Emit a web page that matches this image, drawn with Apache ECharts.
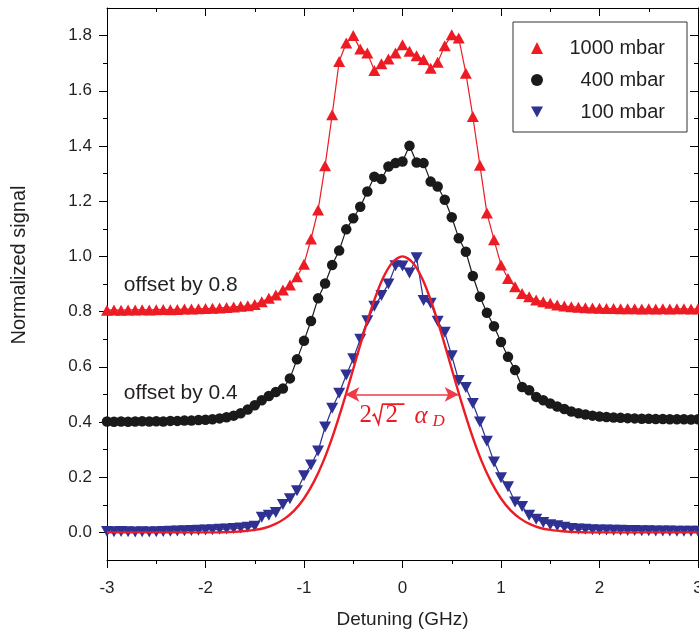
<!DOCTYPE html>
<html><head><meta charset="utf-8">
<script src="https://cdn.jsdelivr.net/npm/echarts@6/dist/echarts.min.js"></script>
<style>html,body{margin:0;padding:0;background:#fff}#c{width:699px;height:637px}</style>
</head><body><div id="c"></div>
<script>
// ---- data ----
const detuning = [-3.000,-2.929,-2.857,-2.786,-2.714,-2.643,-2.571,-2.500,-2.429,-2.357,-2.286,-2.214,-2.143,-2.071,-2.000,-1.929,-1.857,-1.786,-1.714,-1.643,-1.571,-1.500,-1.429,-1.357,-1.286,-1.214,-1.143,-1.071,-1.000,-0.929,-0.857,-0.786,-0.714,-0.643,-0.571,-0.500,-0.429,-0.357,-0.286,-0.214,-0.143,-0.071,0.000,0.071,0.143,0.214,0.286,0.357,0.429,0.500,0.571,0.643,0.714,0.786,0.857,0.929,1.000,1.071,1.143,1.214,1.286,1.357,1.429,1.500,1.571,1.643,1.714,1.786,1.857,1.929,2.000,2.071,2.143,2.214,2.286,2.357,2.429,2.500,2.571,2.643,2.714,2.786,2.857,2.929,3.000];
const signal1000 = [0.805,0.806,0.805,0.806,0.806,0.807,0.806,0.807,0.808,0.807,0.808,0.809,0.809,0.810,0.811,0.812,0.813,0.815,0.817,0.819,0.821,0.826,0.836,0.848,0.860,0.878,0.896,0.926,0.972,1.063,1.168,1.328,1.513,1.706,1.773,1.800,1.751,1.737,1.674,1.698,1.715,1.737,1.767,1.743,1.727,1.713,1.682,1.703,1.763,1.803,1.791,1.664,1.507,1.330,1.157,1.060,0.969,0.920,0.890,0.866,0.854,0.842,0.836,0.830,0.824,0.820,0.818,0.816,0.814,0.813,0.812,0.811,0.811,0.810,0.810,0.810,0.809,0.810,0.809,0.810,0.809,0.810,0.810,0.809,0.810];
const signal400 = [0.402,0.401,0.402,0.401,0.402,0.403,0.402,0.403,0.402,0.404,0.404,0.405,0.405,0.407,0.408,0.410,0.413,0.417,0.423,0.432,0.445,0.461,0.479,0.494,0.509,0.521,0.558,0.627,0.694,0.766,0.848,0.902,0.969,1.021,1.098,1.138,1.180,1.235,1.289,1.280,1.326,1.338,1.344,1.401,1.340,1.338,1.271,1.253,1.205,1.142,1.066,1.017,0.929,0.854,0.796,0.747,0.690,0.636,0.588,0.527,0.515,0.491,0.479,0.467,0.456,0.447,0.438,0.432,0.427,0.423,0.420,0.418,0.416,0.415,0.414,0.413,0.412,0.412,0.411,0.411,0.410,0.410,0.410,0.409,0.410];
const signal100 = [0.003,0.002,0.003,0.002,0.001,0.002,0.001,0.002,0.003,0.004,0.005,0.006,0.007,0.008,0.009,0.010,0.011,0.012,0.014,0.016,0.019,0.022,0.055,0.062,0.072,0.101,0.122,0.151,0.205,0.244,0.295,0.382,0.450,0.504,0.570,0.629,0.700,0.767,0.819,0.858,0.900,0.966,0.965,0.940,0.995,0.840,0.830,0.765,0.725,0.640,0.550,0.525,0.467,0.400,0.330,0.255,0.198,0.165,0.110,0.094,0.062,0.048,0.036,0.028,0.024,0.019,0.014,0.012,0.011,0.010,0.009,0.009,0.008,0.008,0.007,0.007,0.006,0.006,0.005,0.005,0.005,0.004,0.004,0.004,0.004];
const fitX = [-3.0,-2.9,-2.8,-2.7,-2.6,-2.5,-2.4,-2.3,-2.2,-2.1,-2.0,-1.9,-1.8,-1.7,-1.6,-1.5,-1.4,-1.3,-1.2,-1.1,-1.0,-0.9,-0.8,-0.7,-0.6,-0.5,-0.4,-0.3,-0.2,-0.1,0.0,0.1,0.2,0.3,0.4,0.5,0.6,0.7,0.8,0.9,1.0,1.1,1.2,1.3,1.4,1.5,1.6,1.7,1.8,1.9,2.0,2.1,2.2,2.3,2.4,2.5,2.6,2.7,2.8,2.9,3.0];
const fitY = [0,0,0,0,0,0,0,0,0,0,0,0,0.001,0.002,0.005,0.009,0.016,0.029,0.049,0.079,0.123,0.183,0.261,0.358,0.470,0.592,0.715,0.828,0.920,0.979,1.000,0.979,0.920,0.828,0.715,0.592,0.470,0.358,0.261,0.183,0.123,0.079,0.049,0.029,0.016,0.009,0.005,0.002,0.001,0,0,0,0,0,0,0,0,0,0,0,0];
const seriesNames = ['1000 mbar','400 mbar','100 mbar'];
const xTicks = [-3,-2,-1,0,1,2,3];
const yTicks = [0,0.2,0.4,0.6,0.8,1.0,1.2,1.4,1.6,1.8];
const yMinorTicks = [0.1,0.3,0.5,0.7,0.9,1.1,1.3,1.5,1.7];
const fwhmArrow = [-0.58, 0.57];
const fwhmLevel = 0.5;
const offsetNotes = [['offset by 0.8', -2.83, 0.896], ['offset by 0.4', -2.83, 0.504]];
const widthLabelPos = [0, 0.425];

// ---- chart ----
const RED = '#ed1c24', BLACK = '#1a1a1a', BLUE = '#2e3192', TXT = '#231f20';
const FONT = '"Liberation Sans", Arial, Helvetica, sans-serif';
const SERIF = '"Liberation Serif", "DejaVu Serif", serif';
const chart = echarts.init(document.getElementById('c'), null, {renderer: 'canvas'});
const pts = arr => detuning.map((x, i) => [x, arr[i]]);
const axLine = {show: true, onZero: false, lineStyle: {color: '#000', width: 1}};
const noLine = {show: false, onZero: false};
const tickStyle = {color: '#000', width: 1};
const xBase = {type: 'value', min: -3, max: 3, interval: 1, splitLine: {show: false}, axisLine: axLine};
const yBase = {type: 'value', min: -0.1, max: 1.9, splitLine: {show: false}};

const option = {
  animation: false,
  backgroundColor: '#fff',
  textStyle: {fontFamily: FONT},
  grid: {left: 107, right: 1, top: 8, bottom: 77, containLabel: false, outerBoundsMode: 'none'},
  legend: {
    orient: 'vertical', left: 513, top: 22,
    padding: [16, 22, 10, 18], itemGap: 12, itemWidth: 12, itemHeight: 12,
    borderColor: '#333', borderWidth: 1,
    selectedMode: false,
    data: [
      {name: seriesNames[0], icon: 'triangle'},
      {name: seriesNames[1], icon: 'circle'},
      {name: seriesNames[2], icon: 'path://M0,0 L10,0 L5,9 Z'}
    ],
    formatter: n => '{r|' + n + '}',
    textStyle: {color: TXT, fontFamily: FONT, rich: {r: {width: 117, align: 'right', fontSize: 20, lineHeight: 20, color: TXT, fontFamily: FONT}}}
  },
  xAxis: [
    Object.assign({}, xBase, {
      position: 'bottom', name: 'Detuning (GHz)', nameLocation: 'middle', nameGap: 50,
      nameTextStyle: {fontSize: 19, color: TXT, fontFamily: FONT},
      axisTick: {show: true, inside: false, length: 8, lineStyle: tickStyle},
      minorTick: {show: true, splitNumber: 2, length: 4, lineStyle: tickStyle},
      axisLabel: {show: true, fontSize: 17, color: TXT, margin: 20, showMinLabel: true, showMaxLabel: true, fontFamily: FONT}
    }),
    Object.assign({}, xBase, {
      position: 'top',
      axisTick: {show: true, inside: true, length: 8, lineStyle: tickStyle},
      minorTick: {show: true, splitNumber: 2, length: 4, lineStyle: tickStyle},
      axisLabel: {show: false}
    })
  ],
  yAxis: [
    Object.assign({}, yBase, {
      position: 'left', axisLine: axLine,
      name: 'Normalized signal', nameLocation: 'middle', nameGap: 78, nameRotate: 90,
      nameTextStyle: {fontSize: 20, color: TXT, fontFamily: FONT, padding: [0, 0, 0, 38]},
      axisTick: {show: true, inside: false, length: 8, lineStyle: tickStyle, customValues: yTicks},
      axisLabel: {show: true, fontSize: 17, color: TXT, margin: 15, customValues: yTicks, formatter: v => v.toFixed(1), fontFamily: FONT}
    }),
    Object.assign({}, yBase, {
      position: 'left', axisLine: noLine, offset: 0,
      axisTick: {show: true, inside: false, length: 4, lineStyle: tickStyle, customValues: yMinorTicks},
      axisLabel: {show: false, customValues: yMinorTicks}
    }),
    Object.assign({}, yBase, {
      position: 'right', axisLine: axLine, offset: 0,
      axisTick: {show: true, inside: true, length: 8, lineStyle: tickStyle, customValues: yTicks},
      axisLabel: {show: false, customValues: yTicks}
    }),
    Object.assign({}, yBase, {
      position: 'right', axisLine: noLine, offset: 0,
      axisTick: {show: true, inside: true, length: 4, lineStyle: tickStyle, customValues: yMinorTicks},
      axisLabel: {show: false, customValues: yMinorTicks}
    })
  ],
  series: [
    {
      name: seriesNames[0], type: 'line', data: pts(signal1000), z: 3,
      symbol: 'triangle', symbolSize: [12, 11], showAllSymbol: true,
      lineStyle: {color: RED, width: 1.2}, itemStyle: {color: RED},
      emphasis: {disabled: true}, clip: false
    },
    {
      name: seriesNames[1], type: 'line', data: pts(signal400), z: 3,
      symbol: 'circle', symbolSize: 10.5, showAllSymbol: true,
      lineStyle: {color: BLACK, width: 1.2}, itemStyle: {color: BLACK},
      emphasis: {disabled: true}, clip: false
    },
    {
      name: seriesNames[2], type: 'line', data: pts(signal100), z: 3,
      symbol: 'triangle', symbolRotate: 180, symbolSize: [12, 11], showAllSymbol: true,
      lineStyle: {color: BLUE, width: 1.2}, itemStyle: {color: BLUE},
      emphasis: {disabled: true}, clip: false
    },
    {
      name: 'Gaussian', type: 'line', data: fitX.map((x, i) => [x, fitY[i]]), z: 4,
      symbol: 'none', smooth: 0.3,
      lineStyle: {color: RED, width: 2.4},
      emphasis: {disabled: true},
      markLine: {
        silent: true, symbol: ['arrow', 'arrow'], symbolSize: [11, 14], precision: 3,
        lineStyle: {color: '#ef3b45', width: 1.6, type: 'solid'},
        label: {show: false},
        emphasis: {disabled: true},
        data: [[{coord: [fwhmArrow[0], fwhmLevel]}, {coord: [fwhmArrow[1], fwhmLevel]}]]
      }
    }
  ]
};
chart.setOption(option);

const toPx = p => chart.convertToPixel({xAxisIndex: 0, yAxisIndex: 0}, p);
const graphics = offsetNotes.map(([t, x, y]) => {
  const p = toPx([x, y]);
  return {type: 'text', x: p[0], y: p[1], z: 10,
    style: {text: t, fill: TXT, font: '21px ' + FONT, textAlign: 'left', textVerticalAlign: 'middle'}};
});
const [cx, cy] = toPx(widthLabelPos);
const serifText = (t, dx, dy, size, italic) => ({
  type: 'text', x: cx + dx, y: cy + dy, z: 10,
  style: {text: t, fill: RED, font: (italic ? 'italic ' : '') + size + 'px ' + SERIF, textAlign: 'left', textVerticalAlign: 'middle'}
});
graphics.push(serifText('2', -43, 0, 25, false));
graphics.push({
  type: 'polyline', z: 10,
  shape: {points: [[cx - 30, cy + 1], [cx - 28, cy - 1], [cx - 24, cy + 9], [cx - 20, cy - 11], [cx + 2, cy - 11]]},
  style: {stroke: RED, lineWidth: 1.6, fill: null}
});
graphics.push(serifText('2', -17, 0, 25, false));
graphics.push(serifText('α', 12, 1, 25, true));
graphics.push(serifText('D', 30, 6, 17, true));
chart.setOption({graphic: graphics});
</script>
</body></html>
